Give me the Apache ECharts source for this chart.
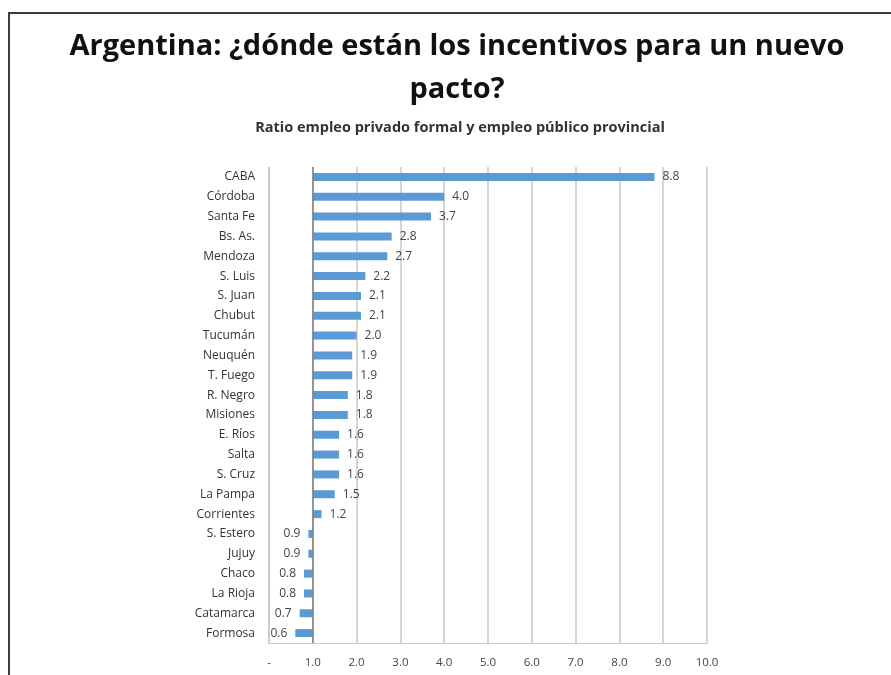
<!DOCTYPE html>
<html>
<head>
<meta charset="utf-8">
<script src="https://cdn.jsdelivr.net/npm/echarts@6/dist/echarts.min.js"></script>
<style>html,body{margin:0;padding:0;background:#fff;}#c{width:891px;height:675px;}</style>
</head>
<body>
<div id="c"></div>
<script>
const categories = ["CABA","Córdoba","Santa Fe","Bs. As.","Mendoza","S. Luis","S. Juan","Chubut","Tucumán","Neuquén","T. Fuego","R. Negro","Misiones","E. Ríos","Salta","S. Cruz","La Pampa","Corrientes","S. Estero","Jujuy","Chaco","La Rioja","Catamarca","Formosa"];
const values = [8.8,4.0,3.7,2.8,2.7,2.2,2.1,2.1,2.0,1.9,1.9,1.8,1.8,1.6,1.6,1.6,1.5,1.2,0.9,0.9,0.8,0.8,0.7,0.6];
const crossValue = 1;
const xTicks = [0,1,2,3,4,5,6,7,8,9,10];

const baseData = values.map(v => Math.min(v, crossValue));
const barData = values.map(v => ({
  value: +(Math.abs(v - crossValue)).toFixed(2),
  label: { position: v >= crossValue ? 'right' : 'left' },
  orig: v
}));

const chart = echarts.init(document.getElementById('c'));
chart.setOption({
  backgroundColor: '#fff',
  animation: false,
  title: [{
    text: 'Argentina: ¿dónde están los incentivos para un nuevo\npacto?',
    left: 457,
    top: 25,
    padding: 0,
    textAlign: 'center',
    textStyle: { fontFamily: 'Open Sans', fontWeight: 'bold', fontSize: 29, color: '#111', lineHeight: 43 }
  }, {
    text: 'Ratio empleo privado formal y empleo público provincial',
    left: 460,
    top: 120,
    padding: 0,
    textAlign: 'center',
    textStyle: { fontFamily: 'Open Sans', fontWeight: 'bold', fontSize: 14.5, color: '#333' }
  }],
  graphic: [{
    type: 'rect',
    shape: { x: 9, y: 13, width: 900, height: 700 },
    style: { fill: 'none', stroke: '#3c3c3c', lineWidth: 2 },
    silent: true
  }],
  grid: { left: 269, right: 184, top: 167, bottom: 32, containLabel: false },
  xAxis: {
    type: 'value', min: 0, max: 10, interval: 1,
    axisLine: { show: true, lineStyle: { color: '#c8c8c8' } },
    axisTick: { show: false },
    splitLine: { show: true, showMinLine: true, lineStyle: { color: '#c8c8c8', width: 1.5 } },
    axisLabel: {
      margin: 14, color: '#444', fontSize: 11.5, fontFamily: 'Open Sans',
      formatter: v => (xTicks.indexOf(v) >= 0 ? (v === 0 ? '-' : v.toFixed(1)) : '')
    }
  },
  yAxis: {
    type: 'category', data: categories, inverse: true,
    axisLine: { show: false },
    axisTick: { show: false },
    axisLabel: { margin: 14, color: '#333', fontSize: 12, fontFamily: 'Open Sans' }
  },
  series: [{
    type: 'bar', stack: 's', data: baseData, barWidth: 8,
    itemStyle: { color: 'transparent' }, silent: true
  }, {
    type: 'bar', stack: 's', data: barData, barWidth: 8,
    itemStyle: { color: '#5b9bd5' },
    label: {
      show: true, distance: 8, color: '#444', fontSize: 12, fontFamily: 'Open Sans',
      formatter: p => p.data.orig.toFixed(1)
    },
    markLine: {
      silent: true, symbol: 'none', label: { show: false },
      lineStyle: { color: '#7f7f7f', type: 'solid', width: 1.5 },
      data: [
        { xAxis: 0, lineStyle: { color: '#c8c8c8', width: 1.5 } },
        { xAxis: crossValue }
      ]
    }
  }]
});
</script>
</body>
</html>
